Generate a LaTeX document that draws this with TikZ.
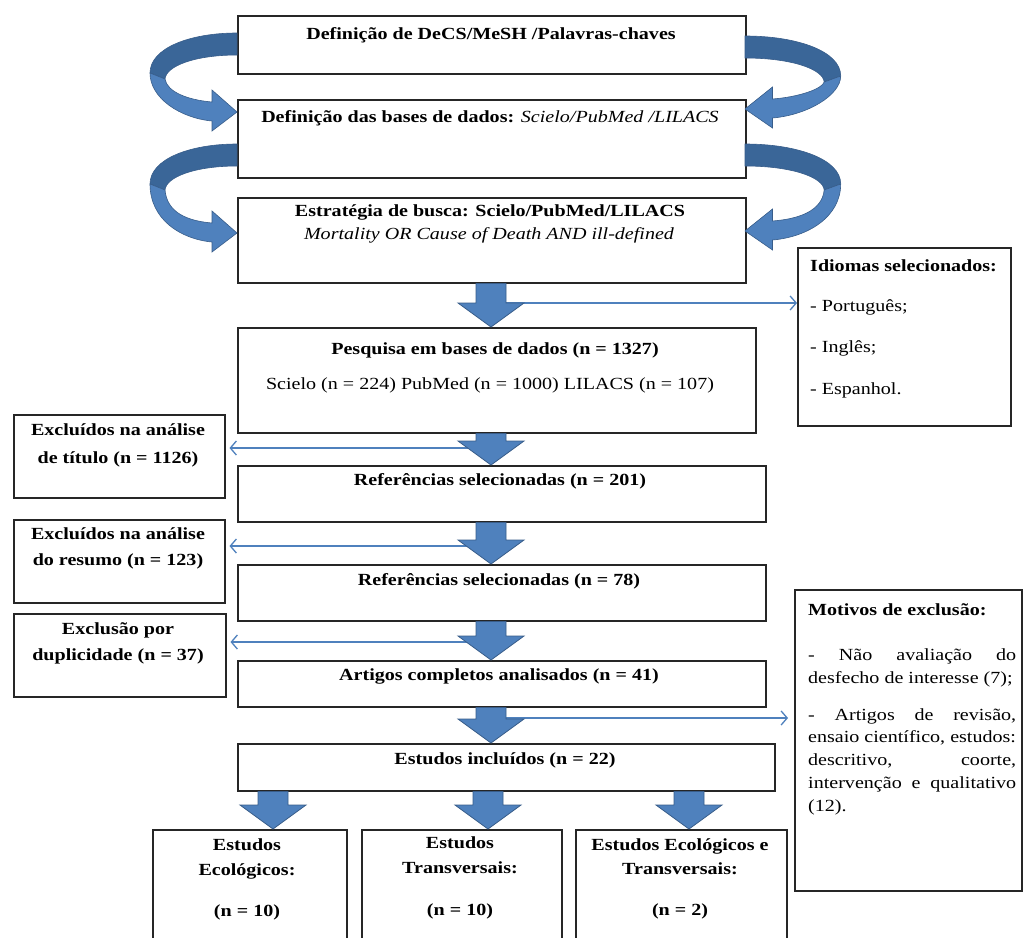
\documentclass[tikz,border=0pt]{standalone}
\usepackage{fontspec}
\setmainfont{Liberation Serif}[FakeStretch=1.18]
\usetikzlibrary{arrows.meta,calc}
\definecolor{oblue}{HTML}{4F81BD}
\definecolor{odark}{HTML}{3A6698}
\definecolor{oedge}{HTML}{385D8A}
\newcommand{\curvarrow}[2]{%
 \path[fill=odark, draw=oedge, line width=0.6pt] (237,#1) .. controls (190,#1) and (150,#1+15) .. (150,#1+40) -- (165,#1+46) .. controls (166,#1+33) and (195,#1+22) .. (237,#1+22) -- cycle;
 \path[fill=oblue, draw=oedge, line width=0.6pt] (150,#1+40) .. controls (150,#2-14) and (180,#2+6) .. (212,#2+9) -- (212,#2+19) -- (237,#2) -- (212,#2-22) -- (212,#2-10) .. controls (188,#2-12) and (167,#2-20) .. (165,#1+46) -- cycle;}
\newcommand{\blockarrow}[2]{%
 \path[fill=oblue, draw=oedge, line width=0.8pt] let \p1=(#1), \p2=(#2) in
 (\x1-15pt,\y1) -- (\x1+15pt,\y1) -- (\x1+15pt,\y2+24pt) -- (\x1+33pt,\y2+24pt) -- (\x1,\y2) -- (\x1-33pt,\y2+24pt) -- (\x1-15pt,\y2+24pt) -- cycle;}
\begin{document}
\begin{tikzpicture}[x=1pt,y=-1pt,
  box/.style={draw=black!85, line width=1.5pt, inner sep=0pt, anchor=north west},
  tb/.style={font=\fontsize{17}{20}\selectfont\bfseries, anchor=base, inner sep=0pt},
  tr/.style={font=\fontsize{17}{20}\selectfont, anchor=base, inner sep=0pt},
  tbl/.style={tb, anchor=base west},
  trl/.style={tr, anchor=base west},
  thinarr/.style={draw=oblue, line width=1.3pt, -{Straight Barb[length=6pt,width=14pt]}}]
\useasboundingbox (0,0) rectangle (1025,937);
\fill[white] (0,0) rectangle (1025,937);
\clip (0,0) rectangle (1025,937);

% boxes
\node[box, minimum width=508, minimum height=58] (b1) at (237,15) {};
\node[box, minimum width=508, minimum height=78] (b2) at (237,99) {};
\node[box, minimum width=508, minimum height=85] (b3) at (237,197) {};
\node[box, minimum width=213, minimum height=178] (idi) at (797,247) {};
\node[box, minimum width=518, minimum height=105] (b4) at (237,327) {};
\node[box, minimum width=211, minimum height=83] (ex1) at (13,414) {};
\node[box, minimum width=528, minimum height=56] (b5) at (237,465) {};
\node[box, minimum width=211, minimum height=83] (ex2) at (13,519) {};
\node[box, minimum width=528, minimum height=56] (b6) at (237,564) {};
\node[box, minimum width=212, minimum height=83] (ex3) at (13,613) {};
\node[box, minimum width=528, minimum height=46] (b7) at (237,660) {};
\node[box, minimum width=227, minimum height=301] (mot) at (794,589) {};
\node[box, minimum width=537, minimum height=47] (incl) at (237,743) {};
\node[box, minimum width=194, minimum height=130] (bA) at (152,829) {};
\node[box, minimum width=200, minimum height=130] (bB) at (361,829) {};
\node[box, minimum width=211, minimum height=130] (bC) at (575,829) {};

% texts
\node[tb] (t1) at (491,39) {Definição de DeCS/MeSH /Palavras-chaves};
\node[tr] (t2) at (490,122) {\textbf{Definição das bases de dados:} \textit{Scielo/PubMed /LILACS}};
\node[tb] (t3a) at (490,216) {Estratégia de busca: Scielo/PubMed/LILACS};
\node[tr] (t3b) at (489,239) {\itshape Mortality OR Cause of Death AND ill-defined};
\node[tb] (t4a) at (495,354) {Pesquisa em bases de dados (n = 1327)};
\node[tr] (t4b) at (490,389) {Scielo (n = 224) PubMed (n = 1000) LILACS (n = 107)};
\node[tb] (e1a) at (118,435) {Excluídos na análise};
\node[tb] (e1b) at (118,463) {de título (n = 1126)};
\node[tb] (e2a) at (118,539) {Excluídos na análise};
\node[tb] (e2b) at (118,565) {do resumo (n = 123)};
\node[tb] (e3a) at (118,634) {Exclusão por};
\node[tb] (e3b) at (118,660) {duplicidade (n = 37)};
\node[tb] (t5) at (500,485) {Referências selecionadas (n = 201)};
\node[tb] (t6) at (499,585) {Referências selecionadas (n = 78)};
\node[tb] (t7) at (499,680) {Artigos completos analisados (n = 41)};
\node[tb] (t8) at (505,764) {Estudos incluídos (n = 22)};
\node[tb] (ta1) at (247,850) {Estudos};
\node[tb] (ta2) at (247,875) {Ecológicos:};
\node[tb] (ta3) at (247,916) {(n = 10)};
\node[tb] (tb1) at (460,848) {Estudos};
\node[tb] (tb2) at (460,873) {Transversais:};
\node[tb] (tb3) at (460,915) {(n = 10)};
\node[tb] (tc1) at (680,850) {Estudos Ecológicos e};
\node[tb] (tc2) at (680,874) {Transversais:};
\node[tb] (tc3) at (680,915) {(n = 2)};
\node[tbl] (i0) at (810,271) {Idiomas selecionados:};
\node[trl] (i1) at (810,311) {- Português;};
\node[trl] (i2) at (810,352) {- Inglês;};
\node[trl] (i3) at (810,394) {- Espanhol.};
\node[tbl] (m0) at (808,615) {Motivos de exclusão:};
\node[trl] (m1) at (808,660) {\makebox[208pt][s]{- Não avaliação do}};
\node[trl] (m2) at (808,683) {desfecho de interesse (7);};
\node[trl] (m3) at (808,720) {\makebox[208pt][s]{- Artigos de revisão,}};
\node[trl] (m4) at (808,742) {ensaio científico, estudos:};
\node[trl] (m5) at (808,765) {\makebox[208pt][s]{descritivo, coorte,}};
\node[trl] (m6) at (808,788) {\makebox[208pt][s]{intervenção e qualitativo}};
\node[trl] (m7) at (808,811) {(12).};

% curved arrows
\curvarrow{33}{112}
\curvarrow{144}{233}
\begin{scope}[xshift=1005.7pt, xscale=-1.1]
\curvarrow{36}{109}
\curvarrow{144}{231}
\end{scope}

% thin arrows
\coordinate (tI) at (491,303);
\coordinate (tE1) at (491,448);
\coordinate (tE2) at (491,546);
\coordinate (tE3) at (491,642);
\coordinate (tM) at (491,718);
\draw[thinarr] (tI) -- (tI -| idi.west);
\draw[thinarr] (tE1) -- ($(tE1 -| ex1.east)+(4,0)$);
\draw[thinarr] (tE2) -- ($(tE2 -| ex2.east)+(4,0)$);
\draw[thinarr] (tE3) -- ($(tE3 -| ex3.east)+(4,0)$);
\draw[thinarr] (tM) -- ($(tM -| mot.west)+(-6,0)$);

% block arrows
\coordinate (axM) at (491,0);
\coordinate (axA) at (273,0);
\coordinate (axB) at (488,0);
\coordinate (axC) at (689,0);
\blockarrow{b3.south -| axM}{b4.north -| axM}
\blockarrow{b4.south -| axM}{b5.north -| axM}
\blockarrow{b5.south -| axM}{b6.north -| axM}
\blockarrow{b6.south -| axM}{b7.north -| axM}
\blockarrow{b7.south -| axM}{incl.north -| axM}
\blockarrow{incl.south -| axA}{bA.north -| axA}
\blockarrow{incl.south -| axB}{bB.north -| axB}
\blockarrow{incl.south -| axC}{bC.north -| axC}
\end{tikzpicture}
\end{document}
